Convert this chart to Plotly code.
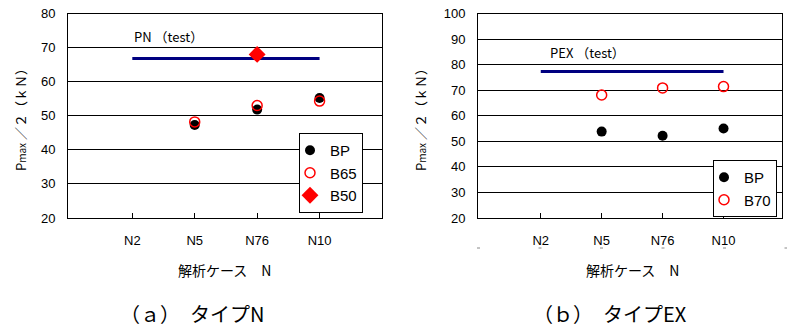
import plotly.graph_objects as go

W, H = 787, 327

categories = ["N2", "N5", "N76", "N10"]

# (a) Type N
a_bp = [None, 47.3, 51.8, 55.2]
a_b65 = [None, 48.2, 53.0, 54.3]
a_b50 = [None, None, 68.0, None]
a_pn_test = 66.8

# (b) Type EX
b_bp = [None, 53.8, 52.2, 55.0]
b_b70 = [None, 68.1, 70.9, 71.4]
b_pex_test = 77.3

y_ticks_a = [20, 30, 40, 50, 60, 70, 80]
y_ticks_b = [20, 30, 40, 50, 60, 70, 80, 90, 100]

JP = "Noto Sans CJK JP"
LAT = "Liberation Sans"

fig = go.Figure()

def px_x(p):
    return p / W

def px_y(p):
    return 1 - p / H

# --- panel a
fig.add_trace(go.Scatter(x=[categories[0], categories[-1]], y=[a_pn_test, a_pn_test], mode="lines",
                         line=dict(color="#000080", width=3), showlegend=False, xaxis="x", yaxis="y"))
fig.add_trace(go.Scatter(x=categories, y=a_bp, mode="markers", name="BP",
                         marker=dict(symbol="circle", size=10, color="black"),
                         xaxis="x", yaxis="y", legend="legend"))
fig.add_trace(go.Scatter(x=categories, y=a_b65, mode="markers", name="B65",
                         marker=dict(symbol="circle-open", size=10, color="red", line=dict(width=1.5)),
                         xaxis="x", yaxis="y", legend="legend"))
fig.add_trace(go.Scatter(x=categories, y=a_b50, mode="markers", name="B50",
                         marker=dict(symbol="diamond", size=13, color="red"),
                         xaxis="x", yaxis="y", legend="legend"))

# --- panel b
fig.add_trace(go.Scatter(x=[categories[0], categories[-1]], y=[b_pex_test, b_pex_test], mode="lines",
                         line=dict(color="#000080", width=3), showlegend=False, xaxis="x2", yaxis="y2"))
fig.add_trace(go.Scatter(x=categories, y=b_bp, mode="markers", name="BP",
                         marker=dict(symbol="circle", size=10, color="black"),
                         xaxis="x2", yaxis="y2", legend="legend2"))
fig.add_trace(go.Scatter(x=categories, y=b_b70, mode="markers", name="B70",
                         marker=dict(symbol="circle-open", size=10, color="red", line=dict(width=1.5)),
                         xaxis="x2", yaxis="y2", legend="legend2"))

ydom = [px_y(218), px_y(13.5)]
common_x = dict(type="category", showgrid=False, showline=True, linecolor="black", linewidth=1,
                mirror=True, ticks="inside", ticklen=5, tickcolor="black",
                tickfont=dict(family=LAT, size=13, color="black"), ticklabelstandoff=10,
                zeroline=False, automargin=False)
common_y = dict(showgrid=True, gridcolor="black", gridwidth=1, showline=True, linecolor="black",
                linewidth=1, mirror=True, ticks="", zeroline=False, automargin=False,
                tickfont=dict(family=LAT, size=13, color="black"), ticklabelstandoff=9)

leg_common = dict(xanchor="left", yanchor="top", bordercolor="black", borderwidth=1,
                  bgcolor="white", font=dict(family=LAT, size=15, color="black"),
                  itemwidth=30, tracegroupgap=0, indentation=-10)

fig.update_layout(
    width=W, height=H, margin=dict(l=0, r=0, t=0, b=0, autoexpand=False),
    paper_bgcolor="white", plot_bgcolor="white",
    xaxis=dict(domain=[px_x(68), px_x(382)], anchor="y", range=[-1.03, 4.0],
               categoryorder="array", categoryarray=categories, **common_x),
    yaxis=dict(domain=ydom, anchor="x", range=[20, 80], tickvals=y_ticks_a, **common_y),
    xaxis2=dict(domain=[px_x(478), px_x(782)], anchor="y2", range=[-1.03, 3.96],
                categoryorder="array", categoryarray=categories, **common_x),
    yaxis2=dict(domain=ydom, anchor="x2", range=[20, 100], tickvals=y_ticks_b, **common_y),
    legend=dict(x=px_x(299), y=px_y(133), **leg_common),
    legend2=dict(x=px_x(713), y=px_y(160), **leg_common),
    shapes=[dict(type="line", xref="paper", yref="paper", x0=px_x(477), x1=1.0,
                 y0=px_y(248), y1=px_y(248),
                 line=dict(color="#888888", width=1, dash="3px,58.5px"))],
)

ytitle = "P<span style='font-size:10px'>max</span> ／２（ｋＮ）"
ann = [
    dict(text="PN （test）", xref="x", yref="y", x=0, y=73.3, xanchor="left", yanchor="middle",
         showarrow=False, font=dict(family=JP, size=13, color="black")),
    dict(text="PEX （test）", xref="x2", yref="y2", x=0, y=84.6, xanchor="left", yanchor="middle",
         xshift=7, showarrow=False, font=dict(family=JP, size=13, color="black")),
    dict(text=ytitle, xref="paper", yref="paper", x=px_x(20), y=px_y(117), textangle=-90,
         xanchor="center", yanchor="middle", showarrow=False, font=dict(family=JP, size=13, color="black")),
    dict(text=ytitle, xref="paper", yref="paper", x=px_x(420), y=px_y(117), textangle=-90,
         xanchor="center", yanchor="middle", showarrow=False, font=dict(family=JP, size=13, color="black")),
    dict(text="解析ケース　N", xref="paper", yref="paper", x=px_x(225), y=px_y(270),
         xanchor="center", yanchor="middle", showarrow=False, font=dict(family=JP, size=14, color="black")),
    dict(text="解析ケース　N", xref="paper", yref="paper", x=px_x(632), y=px_y(270),
         xanchor="center", yanchor="middle", showarrow=False, font=dict(family=JP, size=14, color="black")),
    dict(text="（ａ）　タイプN", xref="paper", yref="paper", x=px_x(192), y=px_y(313),
         xanchor="center", yanchor="middle", showarrow=False, font=dict(family=JP, size=20, color="black")),
    dict(text="（ｂ）　タイプEX", xref="paper", yref="paper", x=px_x(610), y=px_y(313),
         xanchor="center", yanchor="middle", showarrow=False, font=dict(family=JP, size=20, color="black")),
]
fig.update_layout(annotations=ann)

fig.write_html("out.html")
